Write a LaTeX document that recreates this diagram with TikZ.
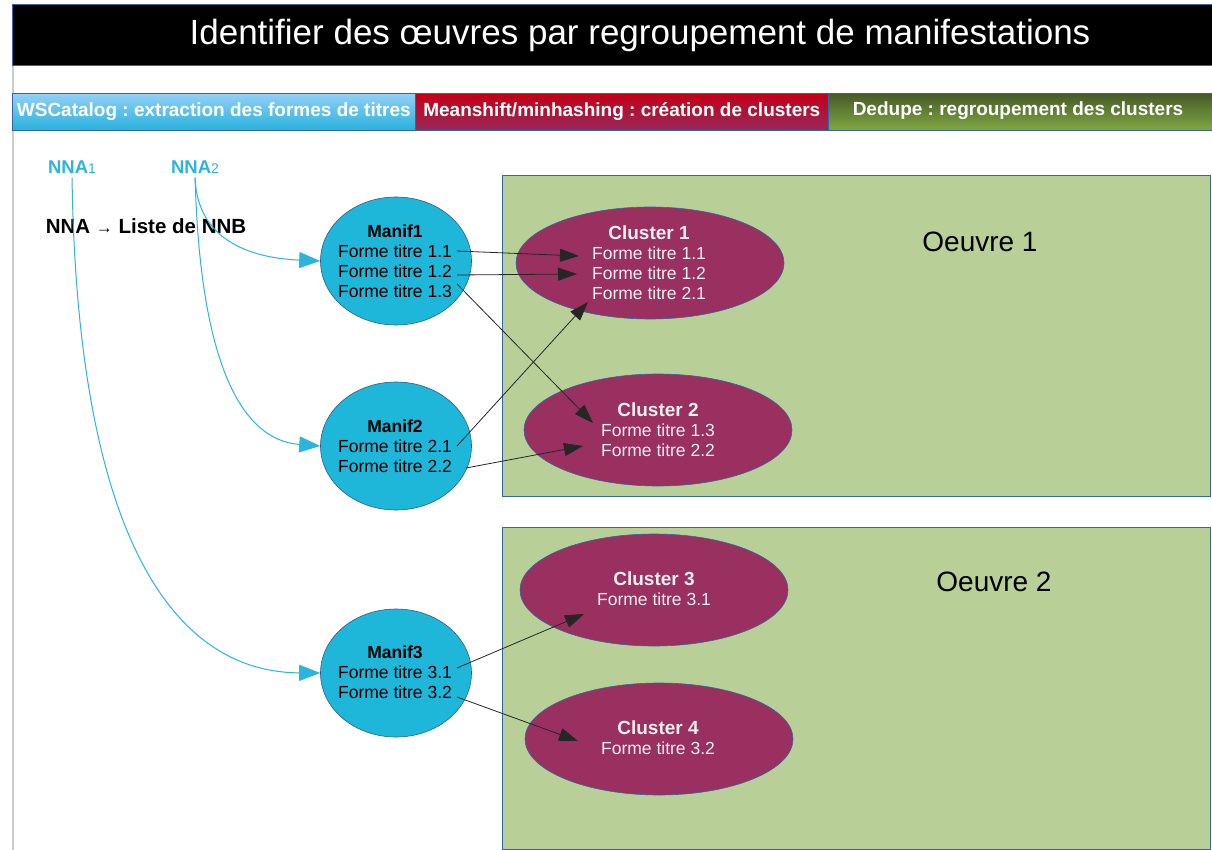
\documentclass[tikz,border=0pt]{standalone}
\usepackage{fontspec}
\setmainfont{Liberation Sans}
\usetikzlibrary{arrows.meta,shapes.geometric,calc}
\frenchspacing
\definecolor{cyanm}{HTML}{1FB7D9}
\definecolor{nnac}{HTML}{2CB5DC}
\definecolor{clus}{HTML}{993060}
\definecolor{vert}{HTML}{B8CF97}
\definecolor{bord}{HTML}{3465A4}
\definecolor{mbord}{HTML}{2E5D8F}
\definecolor{bluetop}{HTML}{92D0F6}
\definecolor{bluebot}{HTML}{27B2DD}
\definecolor{redtop}{HTML}{C20016}
\definecolor{redbot}{HTML}{98295A}
\definecolor{greentop}{HTML}{465A28}
\definecolor{greenbot}{HTML}{80A842}
\definecolor{clustext}{HTML}{F2EEF0}
\begin{document}
\frenchspacing
\begin{tikzpicture}[x=1pt,y=-1pt,
  bandseg/.style={draw=bord, line width=0.6pt, minimum height=37, inner sep=0, anchor=north west,
    text=white, font=\bfseries\fontsize{19}{22}\selectfont},
  oeuvre/.style={draw=bord, line width=0.8pt, fill=vert, anchor=north west, inner sep=0},
  manif/.style={ellipse, draw=mbord, line width=0.6pt, fill=cyanm, minimum width=151, minimum height=128, inner sep=0},
  cluster/.style={ellipse, draw=bord, line width=0.6pt, fill=clus, minimum width=268, minimum height=112, inner sep=0},
  mtext/.style={align=center, inner sep=0, font=\fontsize{17.5}{20}\selectfont, text=black},
  ctext/.style={align=center, inner sep=0, font=\fontsize{17.5}{20}\selectfont, text=clustext},
  nna/.style={text=nnac, inner sep=1, font=\bfseries\fontsize{18.5}{20}\selectfont},
  feed/.style={draw=nnac, line width=1pt, -{Triangle[length=21pt,width=16pt]}, shorten <=3pt},
  link/.style={draw=black!85, line width=0.8pt, -{Triangle[length=19pt,width=13pt]}},
  oeuvretext/.style={inner sep=0, font=\fontsize{28}{30}\selectfont}
]
\useasboundingbox (0,0) rectangle (1212,850);
\fill[white] (0,0) rectangle (1212,850);
% page border
\draw[black!20, line width=1.2pt] (13,65) -- (13,850);
% title
\node[draw=bord, line width=0.8pt, fill=black, minimum width=1205, minimum height=61, anchor=north west, inner sep=0] (titlebar) at (12,4) {};
\node[text=white, inner sep=0, font=\fontsize{35}{40}\selectfont] (title) at (640,35) {Identifier des œuvres par regroupement de manifestations};
% band
\node[bandseg, top color=bluetop, bottom color=bluebot, minimum width=403] (b1) at (12,93) {WSCatalog : extraction des formes de titres};
\node[bandseg, top color=redtop, bottom color=redbot, minimum width=413] (b2) at (415,93) {Meanshift/minhashing : création de clusters};
\node[bandseg, top color=greentop, bottom color=greenbot, minimum width=385, text=white] (b3) at (828,93) {};
\node[text=white, inner sep=0, font=\bfseries\fontsize{19}{22}\selectfont] (b3t) at (1018,111) {Dedupe : regroupement des clusters};
% oeuvres
\node[oeuvre, minimum width=708, minimum height=321] (o1) at (502,175) {};
\node[oeuvre, minimum width=708, minimum height=322] (o2) at (502,527) {};
\node[oeuvretext] (o1t) at (980,242) {Oeuvre 1};
\node[oeuvretext] (o2t) at (994,582) {Oeuvre 2};
% NNA
\node[nna] (nna1) at (72,167) {NNA{\mdseries\fontsize{14}{14}\selectfont 1}};
\node[nna] (nna2) at (195,167) {NNA{\mdseries\fontsize{14}{14}\selectfont 2}};
\node[inner sep=0, font=\bfseries\fontsize{20.5}{20}\selectfont] (legend) at (146,226) {NNA {\mdseries\fontsize{17}{14}\selectfont →} Liste de NNB};
% manifs
\node[manif] (m1) at (396,261) {};
\node[manif] (m2) at (396,446) {};
\node[manif] (m3) at (396,673) {};
\node[mtext] (m1t) at (395,261) {\textbf{Manif1}\\Forme titre 1.1\\Forme titre 1.2\\Forme titre 1.3};
\node[mtext] (m2t) at (395,446) {\textbf{Manif2}\\Forme titre 2.1\\Forme titre 2.2};
\node[mtext] (m3t) at (395,672) {\textbf{Manif3}\\Forme titre 3.1\\Forme titre 3.2};
% clusters
\node[cluster] (c1) at (650,263) {};
\node[cluster] (c2) at (658,430) {};
\node[cluster] (c3) at (654,590) {};
\node[cluster] (c4) at (659,739) {};
\node[ctext] (c1t) at (649,263) {{\bfseries\fontsize{19}{20}\selectfont Cluster 1}\\Forme titre 1.1\\Forme titre 1.2\\Forme titre 2.1};
\node[ctext] (c2t) at (658,430) {{\bfseries\fontsize{19}{20}\selectfont Cluster 2}\\Forme titre 1.3\\Forme titre 2.2};
\node[ctext] (c3t) at (654,589) {{\bfseries\fontsize{19}{20}\selectfont Cluster 3}\\Forme titre 3.1};
\node[ctext] (c4t) at (658,738) {{\bfseries\fontsize{19}{20}\selectfont Cluster 4}\\Forme titre 3.2};
% feeding curves
\draw[feed] (nna2.south) .. controls (197,240) and (250,258) .. (m1.west);
\draw[feed] (nna2.south) .. controls (200,360) and (240,440) .. (m2.west);
\draw[feed] (nna1.south) .. controls (77,520) and (165,672) .. (m3.west);
% link endpoints
\coordinate (s11) at ($(m1)+(61,-10)$);
\coordinate (s12) at ($(m1)+(61,14)$);
\coordinate (s13) at ($(m1)+(61,23)$);
\coordinate (s21) at ($(m2)+(61,0)$);
\coordinate (s22) at ($(m2)+(70,22)$);
\coordinate (s31) at ($(m3)+(61,-5)$);
\coordinate (s32) at ($(m3)+(61,24)$);
\coordinate (t11) at ($(c1)+(-71,-7)$);
\coordinate (t12) at ($(c1)+(-73,11)$);
\coordinate (t21) at ($(c1)+(-62,39)$);
\coordinate (t13) at ($(c2)+(-65,-7)$);
\coordinate (t22) at ($(c2)+(-75,16)$);
\coordinate (t31) at ($(c3)+(-70,24)$);
\coordinate (t32) at ($(c4)+(-81,2)$);
\draw[link] (s11) -- (t11);
\draw[link] (s12) -- (t12);
\draw[link] (s13) -- (t13);
\draw[link] (s21) -- (t21);
\draw[link] (s22) -- (t22);
\draw[link] (s31) -- (t31);
\draw[link] (s32) -- (t32);
\end{tikzpicture}
\end{document}
